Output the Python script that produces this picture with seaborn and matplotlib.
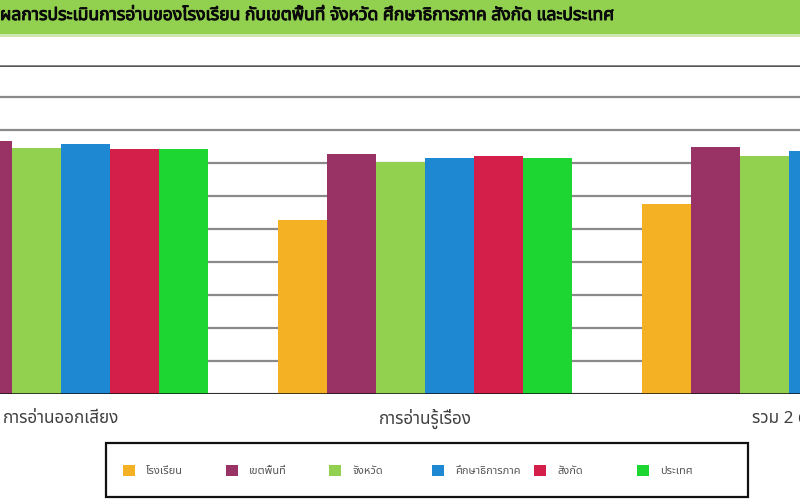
import numpy as np
import pandas as pd
import matplotlib
matplotlib.use("Agg")
import matplotlib.pyplot as plt
from matplotlib import font_manager
from matplotlib.ft2font import FT2Font
from matplotlib.patches import Rectangle
import matplotlib.patheffects as pe
import seaborn as sns

# ---------------- data ----------------
categories = ["การอ่านออกเสียง", "การอ่านรู้เรื่อง", "รวม 2 ด้าน"]
series = ["โรงเรียน", "เขตพื้นที่", "จังหวัด", "ศึกษาธิการภาค", "สังกัด", "ประเทศ"]
school = [62.6, 52.6, 57.6]
area = [76.7, 72.8, 74.8]
province = [74.6, 70.4, 72.3]
region = [75.7, 71.7, 73.7]
affiliation = [74.3, 72.3, 73.3]
country = [74.3, 71.7, 73.0]
colors = ["#F5B124", "#993366", "#92D050", "#1E88D2", "#D41F4A", "#1ED632"]
title = "ผลการประเมินการอ่านของโรงเรียน กับเขตพื้นที่ จังหวัด ศึกษาธิการภาค สังกัด และประเทศ"

values = [school, area, province, region, affiliation, country]
rows = []
for s, vals in zip(series, values):
    for c, v in zip(categories, vals):
        rows.append({"category": c, "series": s, "value": v})
df = pd.DataFrame(rows)

# ---------------- font with Thai glyphs ----------------
def find_thai_font():
    prefs = ["Noto Sans Thai", "Noto Sans Thai UI", "Tahoma", "Loma", "Garuda", "Norasi"]
    found = {}
    for f in font_manager.fontManager.ttflist:
        try:
            cm = FT2Font(f.fname).get_charmap()
        except Exception:
            continue
        if 0x0E01 in cm and 0x0E40 in cm:
            found.setdefault(f.name, f.fname)
    for p in prefs:
        if p in found:
            return p
    if found:
        return sorted(found.keys())[0]
    return None

sns.set_theme(style="white")
thai = find_thai_font()
fams = ([thai] if thai else []) + ["DejaVu Sans"]
plt.rcParams["font.family"] = fams

# ---------------- figure ----------------
W, H = 800, 500
fig = plt.figure(figsize=(8, 5), dpi=100)

# title bar
fig.patches.append(Rectangle((0, 1 - 34 / H), 1, 34 / H, transform=fig.transFigure,
                             facecolor="#92D050", edgecolor="none", zorder=0))
fig.patches.append(Rectangle((0, 1 - 37 / H), 1, 3 / H, transform=fig.transFigure,
                             facecolor="#CFE8B2", edgecolor="none", zorder=0))
fig.text(0.0, 1 - 15 / H, title, ha="left", va="center", fontsize=12.6,
         fontweight="bold", color="#0A0A0A", family=fams,
         path_effects=[pe.withStroke(linewidth=0.7, foreground="#0A0A0A")])

# axes: baseline at y=393.5 px, top gridline at 64.5 px
ax_bottom = (H - 393.5) / H
ax_height = (393.5 - 64.5) / H
ax = fig.add_axes([0, ax_bottom, 1, ax_height])

sns.barplot(data=df, x="category", y="value", hue="series", order=categories,
            hue_order=series, palette=colors, saturation=1, width=0.8077,
            ax=ax, errorbar=None, linewidth=0)

# map: group centres at x pixels 61, 425, 789 (364 px per unit)
ax.set_xlim(-61 / 364, 2 + (800 - 789) / 364)
ax.set_ylim(0, 100)
ax.set_yticks(np.arange(0, 101, 10))
ax.set_yticklabels([])
ax.set_axisbelow(True)
ax.yaxis.grid(True, color="#8A8A8A", linewidth=1.6)
ax.xaxis.grid(False)
for sp in ax.spines.values():
    sp.set_visible(False)
ax.axhline(100, color="#3A3A3A", linewidth=2.0, zorder=0.5)
ax.axhline(0, color="#111111", linewidth=1.8, zorder=3)
ax.set_xlabel("")
ax.set_ylabel("")
ax.tick_params(axis="x", length=0, pad=18.4, labelsize=12.3, labelcolor="#404040")
ax.tick_params(axis="y", length=0)
for lbl in ax.get_xticklabels():
    lbl.set_family(fams)
    lbl.set_va("center")

handles, labels = ax.get_legend_handles_labels()
if ax.get_legend() is not None:
    ax.get_legend().remove()

# legend frame
fig.patches.append(Rectangle((106 / W, 1 - 497 / H), (748 - 106) / W, (497 - 443) / H,
                             transform=fig.transFigure, facecolor="white",
                             edgecolor="#111111", linewidth=1.6, zorder=1))
# legend entries, evenly spaced like the reference
entry_x = [123, 226, 329, 432, 534, 637]
for h, l, xp in zip(handles, labels, entry_x):
    lg = fig.legend([h], [l], loc="center left",
                    bbox_to_anchor=(xp / W, 1 - 471 / H), frameon=False,
                    handlelength=1.08, handleheight=1.08, handletextpad=1.0,
                    borderpad=0, borderaxespad=0, labelcolor="#555555",
                    prop={"family": fams, "size": 8})
    lg.set_zorder(2)

fig.savefig("out.png", dpi=100)
